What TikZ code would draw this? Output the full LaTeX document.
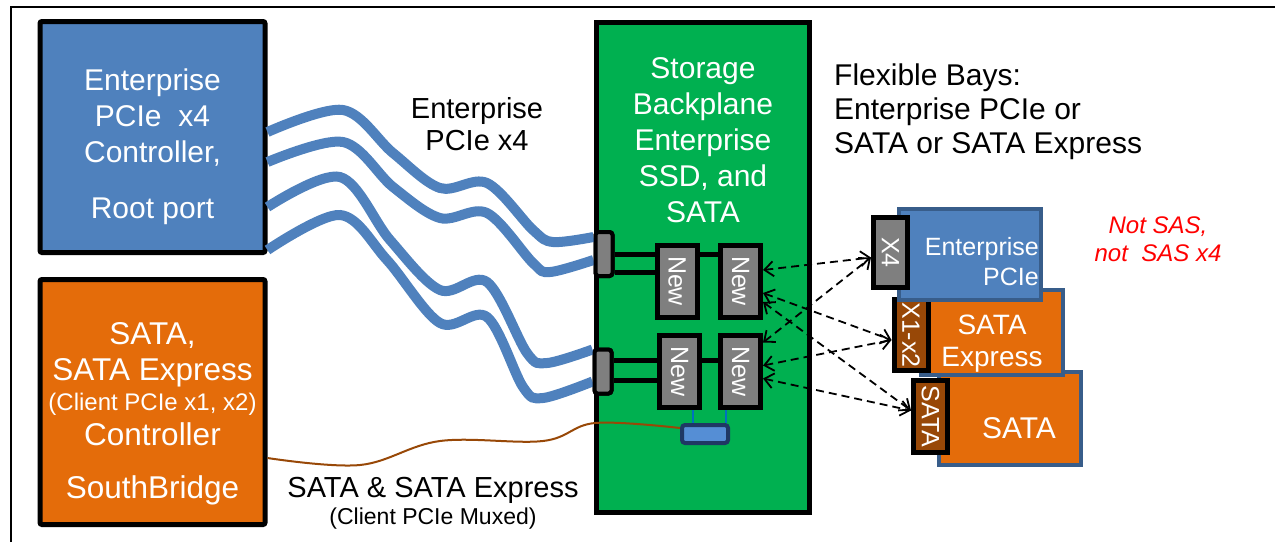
\documentclass[tikz,border=0pt]{standalone}
\usepackage{fontspec}
\setmainfont{Liberation Sans}
\usetikzlibrary{arrows.meta,positioning}

\definecolor{pcieblue}{HTML}{4F81BD}
\definecolor{sborange}{HTML}{E46C0A}
\definecolor{bpgreen}{HTML}{00B050}
\definecolor{newgray}{HTML}{7F7F7F}
\definecolor{tabbrown}{HTML}{984807}
\definecolor{cardedge}{HTML}{385D8A}
\definecolor{muxedge}{HTML}{1F3864}
\definecolor{muxblue}{HTML}{558ED5}
\definecolor{tapblue}{HTML}{0070C0}

\newcommand\ctrlfont{\fontsize{30}{36}\selectfont}
\newcommand\sbfont{\fontsize{31.5}{36}\selectfont}
\newcommand\subfont{\fontsize{23}{28}\selectfont}
\newcommand\tabfont{\fontsize{25}{30}\selectfont}
\newcommand\cardfont{\fontsize{28}{32}\selectfont}
\newcommand\notefont{\fontsize{24}{28}\selectfont}

\tikzset{
  ctrl/.style={draw=black, line width=5pt, rounded corners=2pt,
    minimum width=225pt},
  conn/.style={draw=black, fill=newgray, line width=4pt, rounded corners=3pt,
    minimum width=17pt, minimum height=44pt, inner sep=0pt},
  newbox/.style={draw=black, fill=newgray, line width=5pt, minimum width=40pt,
    minimum height=72pt, inner sep=0pt, text=white, font=\tabfont},
  bar/.style={line width=5pt, draw=black},
  cable/.style={line width=10pt, draw=pcieblue},
  card/.style={draw=cardedge, line width=4pt, minimum width=142pt},
  tab/.style={draw=black, line width=5pt, minimum width=34pt, inner sep=0pt,
    text=white, font=\tabfont},
  bay/.style={dashed, dash pattern=on 8pt off 5pt, line width=1.8pt,
    {Straight Barb[length=9pt,width=15pt]}-{Straight Barb[length=9pt,width=15pt]}},
  label/.style={align=center, inner sep=0pt}
}

\begin{document}
\begin{tikzpicture}[x=1pt,y=-1pt]
  \useasboundingbox (0,0) rectangle (1275,542);
  \draw[line width=1.5pt] (11,542) -- (11,7) -- (1275,7);

  % controllers and backplane
  \node[ctrl, fill=pcieblue, minimum height=231pt] (pcie) at (152.5,137) {};
  \node[label, text=white, font=\ctrlfont] (pcietxt) at (152.5,147)
    {Enterprise\\PCIe\ \ x4\\Controller,\\[20pt]Root port};
  \node[ctrl, fill=sborange, minimum height=245pt] (sb) at (152.5,402) {};
  \node[label, text=white, font=\sbfont] (sbtxt) at (152.5,414)
    {SATA,\\SATA Express\\[-6pt]{\fontsize{24}{28}\selectfont (Client PCIe x1, x2)}\\[-1pt]Controller\\[17pt]SouthBridge};
  \node[draw=black, fill=bpgreen, line width=5pt, minimum width=213pt,
    minimum height=490pt] (bp) at (703,267.5) {};
  \node[label, text=white, font=\ctrlfont] (bptxt) at (703,140)
    {Storage\\Backplane\\Enterprise\\SSD, and\\SATA};

  % cables
  \coordinate (c1s) at ([yshift=5pt]pcie.east);
  \coordinate (c2s) at ([yshift=-25pt]pcie.east);
  \coordinate (c3s) at ([yshift=-70pt]pcie.east);
  \coordinate (c4s) at ([yshift=-113pt]pcie.east);
  \node[conn] (conn1) at (604,254) {};
  \node[conn] (conn2) at (603,371.5) {};
  \draw[cable] plot[smooth, tension=0.55] coordinates {(c1s) (343,110) (393,153)
    (440,188) (487,183) (533,230) (553,242) ([yshift=17pt]conn1.west)};
  \draw[cable] plot[smooth, tension=0.55] coordinates {(c2s) (343,142) (393,187)
    (440,218) (487,213) (533,263) (550,272) ([yshift=-6pt]conn1.west)};
  \draw[cable] plot[smooth, tension=0.55] coordinates {(c3s) (340,177) (390,240)
    (440,290) (487,282) (527,353) (547,363) ([yshift=22pt]conn2.west)};
  \draw[cable] plot[smooth, tension=0.55] coordinates {(c4s) (340,215) (387,260)
    (440,323) (487,317) (523,387) (543,398) ([yshift=-10pt]conn2.west)};
  \node[conn] at (conn1) {};
  \node[conn] at (conn2) {};

  % drive slots
  \node[newbox] (n1a) at (677,281) {\rotatebox{-90}{New}};
  \node[newbox] (n1b) at (740.5,281) {\rotatebox{-90}{New}};
  \node[newbox] (n2a) at (679.5,371.5) {\rotatebox{-90}{New}};
  \node[newbox] (n2b) at (740.5,371.5) {\rotatebox{-90}{New}};
  \draw[bar] ([yshift=0pt]conn1.east) -- ([yshift=0pt]conn1.east -| n1a.west);
  \draw[bar] ([yshift=-18pt]conn1.east) -- ([yshift=-18pt]conn1.east -| n1a.west);
  \draw[bar] ([yshift=0pt]conn1.east -| n1a.east) -- ([yshift=0pt]conn1.east -| n1b.west);
  \draw[bar] ([yshift=11pt]conn2.east) -- ([yshift=11pt]conn2.east -| n2a.west);
  \draw[bar] ([yshift=-9pt]conn2.east) -- ([yshift=-9pt]conn2.east -| n2a.west);
  \draw[bar] ([yshift=11pt]conn2.east -| n2a.east) -- ([yshift=11pt]conn2.east -| n2b.west);

  % mux and SATA wire
  \node[draw=muxedge, fill=muxblue, line width=4pt, rounded corners=3pt,
    minimum width=46pt, minimum height=18pt, inner sep=0pt] (mux) at (705,434) {};
  \draw[tapblue, line width=2pt] ([xshift=-12pt]mux.north) -- ([xshift=-12pt]mux.north |- n2a.south);
  \draw[tapblue, line width=2pt] ([xshift=21pt]mux.north) -- ([xshift=21pt]mux.north |- n2b.south);
  \coordinate (wA) at ([yshift=-56pt]sb.east);
  \draw[tabbrown, line width=2pt] plot[smooth, tension=0.6] coordinates {(wA) (360,465)
    (440,441) (543,441) (595,423) ([yshift=6pt]mux.west)};

  % flexible bay cards
  \node[card, fill=sborange, minimum height=93pt] (satacard) at (1010,418.5) {};
  \node[label, text=white, font=\ctrlfont] (satatxt) at (1019,428) {SATA};
  \node[tab, fill=tabbrown, minimum height=72pt] (satatab) at (930.5,416.5) {\rotatebox{-90}{SATA}};
  \node[card, fill=sborange, minimum height=85pt] (sxcard) at (991.5,332.5) {};
  \node[label, text=white, font=\cardfont] (sxtxt) at (992,344) {SATA\\Express};
  \node[tab, fill=tabbrown, minimum height=71pt] (x1tab) at (911,335) {\rotatebox{-90}{X1-x2}};
  \node[card, fill=pcieblue, minimum height=91pt] (epcard) at (970,254.5) {};
  \node[label, align=right, anchor=east, text=white, font=\tabfont] (eptxt) at (1039,262) {Enterprise\\PCIe};
  \node[tab, fill=newgray, minimum height=70pt] (x4tab) at (890.5,252.5) {\rotatebox{-90}{X4}};

  \draw[bay] ([yshift=11pt]n1b.east) -- ([yshift=-5pt]x4tab.west);
  \draw[bay] ([yshift=-12pt]n1b.east) -- ([yshift=-5pt]x1tab.west);
  \draw[bay] ([yshift=-21pt]n1b.east) -- ([yshift=6pt]satatab.west);
  \draw[bay] ([yshift=29pt]n2b.east) -- ([yshift=-5pt]x4tab.west);
  \draw[bay] ([yshift=6pt]n2b.east) -- ([yshift=-5pt]x1tab.west);
  \draw[bay] ([yshift=-7pt]n2b.east) -- ([yshift=6pt]satatab.west);

  % notes
  \node[label, font=\fontsize{29}{32}\selectfont] (pcielbl) at (477,124) {Enterprise\\PCIe x4};
  \node[label, font=\fontsize{29}{32}\selectfont] (sxlbl) at (433,490) {SATA \& SATA Express};
  \node[label, font=\subfont] (muxlbl) at (433,519) {(Client PCIe Muxed)};
  \node[label, align=left, anchor=west, font=\fontsize{30}{34}\selectfont] (bays) at (834,112)
    {Flexible Bays:\\Enterprise PCIe or\\SATA or SATA Express};
  \node[label, text=red, font=\notefont\itshape] (nosas) at (1158,239) {Not SAS,\\not\ \ SAS x4};
\end{tikzpicture}
\end{document}
